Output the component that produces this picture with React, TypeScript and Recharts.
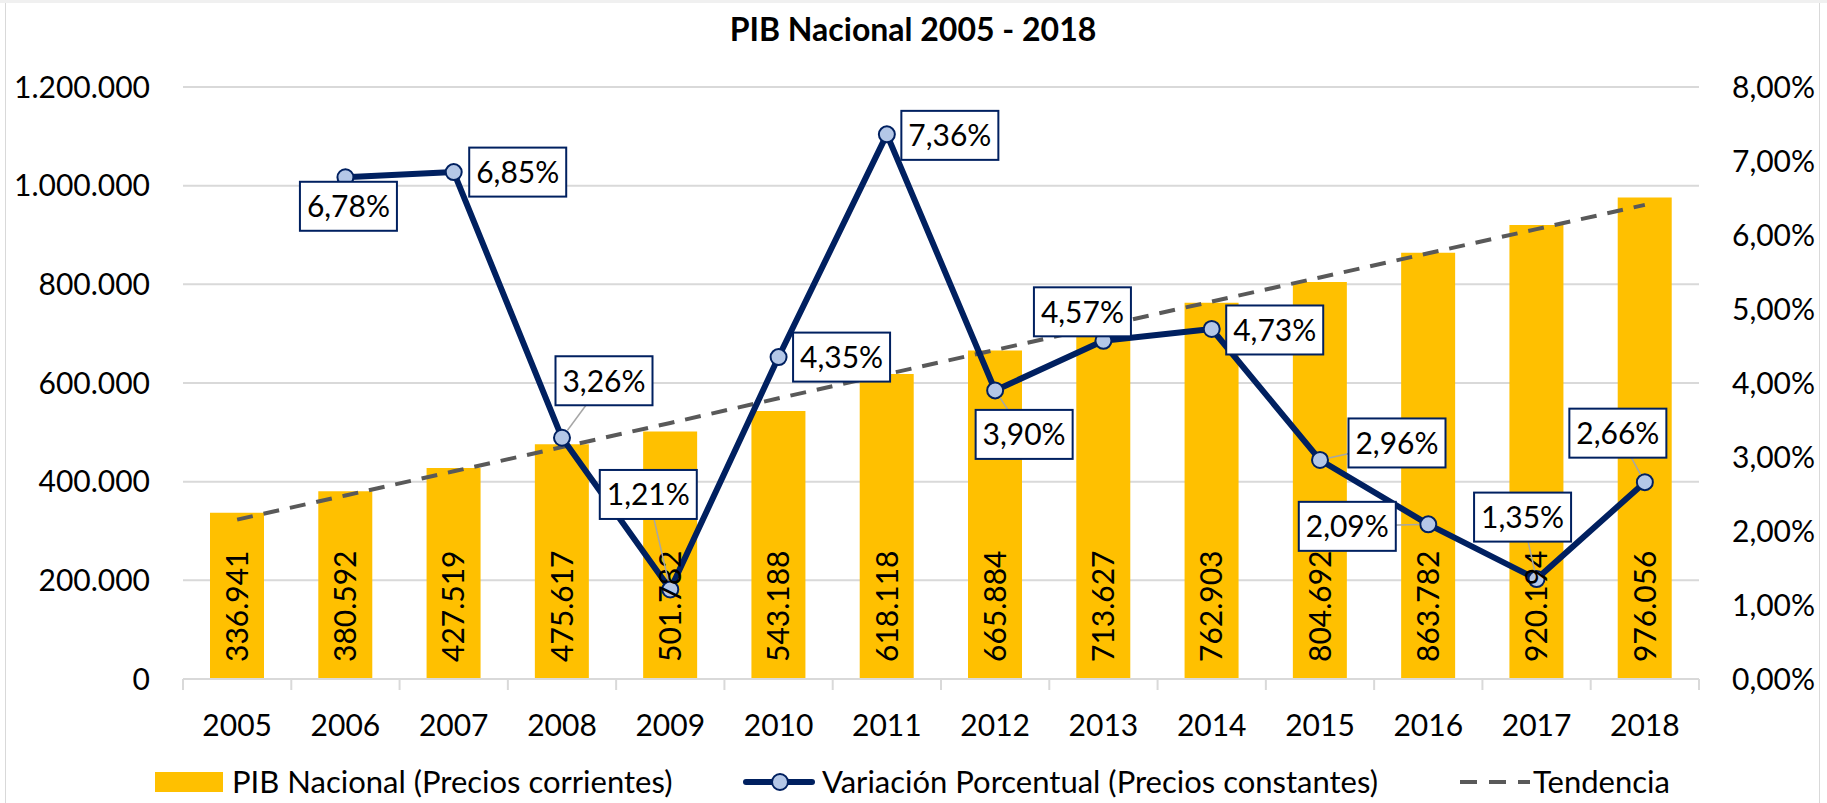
import React from "react";
import {
  ComposedChart,
  Bar,
  Line,
  XAxis,
  YAxis,
  CartesianGrid,
  LabelList,
} from "recharts";

// datos
const years = ["2005", "2006", "2007", "2008", "2009", "2010", "2011", "2012", "2013", "2014", "2015", "2016", "2017", "2018"];
const pibCorrientes = [336941, 380592, 427519, 475617, 501782, 543188, 618118, 665884, 713627, 762903, 804692, 863782, 920194, 976056];
const variacion = [null, 6.78, 6.85, 3.26, 1.21, 4.35, 7.36, 3.9, 4.57, 4.73, 2.96, 2.09, 1.35, 2.66];
const tendencia = [323000, 372000, 421000, 470000, 519000, 569000, 618000, 667000, 716000, 765000, 814000, 863000, 912000, 961000];
const leftTicks = [0, 200000, 400000, 600000, 800000, 1000000, 1200000];
const rightTicks = [0, 1, 2, 3, 4, 5, 6, 7, 8];

const data = years.map((year, i) => ({
  year,
  pib: pibCorrientes[i],
  variacion: variacion[i],
  tendencia: tendencia[i],
}));

// layout
const W = 1827;
const H = 803;
const PLOT_LEFT = 183;
const PLOT_RIGHT = 1699;
const PLOT_TOP = 87;
const PLOT_BOTTOM = 679;
const X_AXIS_H = 60;
const HALF_BAND = (PLOT_RIGHT - PLOT_LEFT) / years.length / 2;
const FONT = "Lato, 'Noto Sans', sans-serif";
const NAVY = "#002060";
const GOLD = "#FFC000";
const GRID = "#d9d9d9";

// where each percentage box sits relative to its point
const labelPlacement: ({ dx: number; dy: number; leader: boolean } | null)[] = [
  null,
  { dx: 3, dy: 29, leader: false },
  { dx: 64, dy: 0, leader: false },
  { dx: 42, dy: -57, leader: true },
  { dx: -22, dy: -95, leader: true },
  { dx: 63, dy: 0, leader: false },
  { dx: 63, dy: 1, leader: false },
  { dx: 29, dy: 44, leader: true },
  { dx: -21, dy: -29, leader: false },
  { dx: 63, dy: 1, leader: false },
  { dx: 77, dy: -17, leader: true },
  { dx: -81, dy: 2, leader: true },
  { dx: -14, dy: -62, leader: true },
  { dx: -27, dy: -49, leader: true },
];

const miles = (n: number) => String(Math.round(n)).replace(/\B(?=(\d{3})+(?!\d))/g, ".");
const pct = (v: number) => `${v.toFixed(2).replace(".", ",")}%`;

function YearTick(props: any) {
  const { x, payload } = props;
  const last = payload.value === years[years.length - 1];
  return (
    <g>
      <line x1={x - HALF_BAND} y1={PLOT_BOTTOM} x2={x - HALF_BAND} y2={PLOT_BOTTOM + 11} stroke={GRID} strokeWidth={2} />
      {last && (
        <line x1={x + HALF_BAND} y1={PLOT_BOTTOM} x2={x + HALF_BAND} y2={PLOT_BOTTOM + 11} stroke={GRID} strokeWidth={2} />
      )}
      <text x={x} y={PLOT_BOTTOM + 46} dy="0.36em" textAnchor="middle" fill="#000" fontSize={30} fontFamily={FONT}>
        {payload.value}
      </text>
    </g>
  );
}

function BarValue(props: any) {
  const vb = props.viewBox || {};
  const bx = vb.x ?? props.x;
  const bw = vb.width ?? props.width;
  if (bx == null || props.value == null) return null;
  const cx = bx + bw / 2;
  const by = PLOT_BOTTOM - 17;
  return (
    <text
      x={cx}
      y={by}
      dy="0.36em"
      transform={`rotate(-90 ${cx} ${by})`}
      textAnchor="start"
      fill="#000"
      fontSize={30}
      fontFamily={FONT}
    >
      {miles(props.value)}
    </text>
  );
}

function VarLabel(props: any) {
  const { index, value } = props;
  if (value == null) return null;
  const p = labelPlacement[index];
  if (!p) return null;
  const vb = props.viewBox || {};
  const px = vb.x ?? props.x;
  const py = vb.y ?? props.y;
  const cx = px + p.dx;
  const cy = py + p.dy;
  const bw = 97;
  const bh = 49;
  let leader = null;
  if (p.leader) {
    const dx = px - cx;
    const dy = py - cy;
    const len = Math.hypot(dx, dy);
    leader = (
      <line
        x1={cx}
        y1={cy}
        x2={px - (dx / len) * 9}
        y2={py - (dy / len) * 9}
        stroke="#a6a6a6"
        strokeWidth={1.5}
      />
    );
  }
  return (
    <g>
      {leader}
      <rect x={cx - bw / 2} y={cy - bh / 2} width={bw} height={bh} fill="#fff" stroke={NAVY} strokeWidth={2} />
      <text x={cx} y={cy} dy="0.36em" textAnchor="middle" fill="#000" fontSize={30} fontFamily={FONT}>
        {pct(value)}
      </text>
    </g>
  );
}

export default function App() {
  const legendY = 782;
  return (
    <div style={{ position: "absolute", left: 0, top: 0, width: W, height: H, background: "#fff", fontFamily: FONT }}>
      <div style={{ position: "absolute", left: 0, top: 0, width: W, height: 3, background: "#f0f0f0" }} />
      <div style={{ position: "absolute", left: 5, top: 3, width: 1, height: H - 3, background: GRID }} />
      <div style={{ position: "absolute", left: 1819, top: 3, width: 1, height: H - 3, background: GRID }} />
      <ComposedChart
        width={W}
        height={H}
        data={data}
        margin={{ top: PLOT_TOP, right: 0, bottom: H - PLOT_BOTTOM - X_AXIS_H, left: 0 }}
        barCategoryGap={0}
      >
        <CartesianGrid yAxisId="left" vertical={false} stroke={GRID} strokeWidth={2} />
        <XAxis
          dataKey="year"
          height={X_AXIS_H}
          interval={0}
          axisLine={{ stroke: GRID, strokeWidth: 2 }}
          tickLine={false}
          tick={<YearTick />}
        />
        <YAxis
          yAxisId="left"
          width={PLOT_LEFT}
          domain={[0, 1200000]}
          ticks={leftTicks}
          tickFormatter={miles}
          axisLine={false}
          tickLine={false}
          tickSize={0}
          tickMargin={33}
          tick={{ fill: "#000", fontSize: 30, fontFamily: FONT }}
        />
        <YAxis
          yAxisId="right"
          orientation="right"
          width={W - PLOT_RIGHT}
          domain={[0, 8]}
          ticks={rightTicks}
          tickFormatter={pct}
          axisLine={false}
          tickLine={false}
          tickSize={0}
          tickMargin={33}
          tick={{ fill: "#000", fontSize: 30, fontFamily: FONT, textAnchor: "start" }}
        />
        <Bar yAxisId="left" dataKey="pib" fill={GOLD} barSize={54} isAnimationActive={false}>
          <LabelList dataKey="pib" content={<BarValue />} />
        </Bar>
        <Line
          yAxisId="left"
          type="linear"
          dataKey="tendencia"
          stroke="#595959"
          strokeWidth={4}
          strokeDasharray="16 11"
          dot={false}
          activeDot={false}
          isAnimationActive={false}
        />
        <Line
          yAxisId="right"
          type="linear"
          dataKey="variacion"
          stroke={NAVY}
          strokeWidth={6}
          strokeLinejoin="round"
          dot={{ r: 8, fill: "#B4C7E7", stroke: NAVY, strokeWidth: 2 }}
          activeDot={false}
          isAnimationActive={false}
        >
          <LabelList dataKey="variacion" content={<VarLabel />} />
        </Line>
      </ComposedChart>
      <svg
        width={W}
        height={H}
        style={{ position: "absolute", left: 0, top: 0, pointerEvents: "none" }}
      >
        <text x={913} y={29} dy="0.36em" textAnchor="middle" fontSize={32} fontWeight="bold" fontFamily={FONT} fill="#000">
          PIB Nacional 2005 - 2018
        </text>
        <rect x={155} y={legendY - 10} width={68} height={20} fill={GOLD} />
        <text x={232} y={legendY} dy="0.36em" fontSize={31} fontFamily={FONT} fill="#000">
          PIB Nacional (Precios corrientes)
        </text>
        <line x1={746} y1={legendY} x2={812} y2={legendY} stroke={NAVY} strokeWidth={6} strokeLinecap="round" />
        <circle cx={780} cy={legendY} r={8} fill="#B4C7E7" stroke={NAVY} strokeWidth={2} />
        <text x={822} y={legendY} dy="0.36em" fontSize={31} fontFamily={FONT} fill="#000">
          Variación Porcentual (Precios constantes)
        </text>
        <line x1={1460} y1={legendY} x2={1530} y2={legendY} stroke="#595959" strokeWidth={4} strokeDasharray="17 12" />
        <text x={1533} y={legendY} dy="0.36em" fontSize={31} fontFamily={FONT} fill="#000">
          Tendencia
        </text>
      </svg>
    </div>
  );
}
